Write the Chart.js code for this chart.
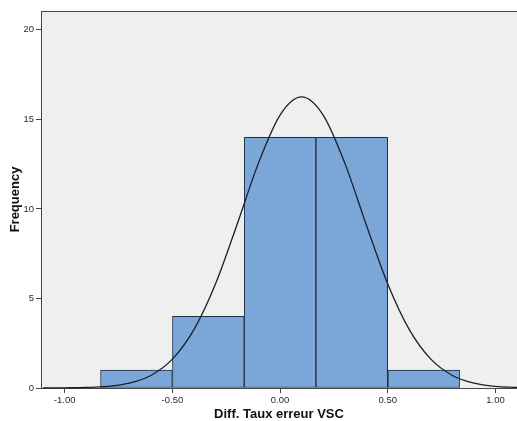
<!DOCTYPE html>
<html>
<head>
<meta charset="utf-8">
<script src="https://cdn.jsdelivr.net/npm/chart.js@4.4.1/dist/chart.umd.min.js"></script>
<style>
html,body{margin:0;padding:0;background:#fff}
canvas{display:block}
</style>
</head>
<body>
<canvas id="chart" width="517" height="421"></canvas>
<script>
// histogram bins (centres) and counts
const binCenters = [-0.667, -0.333, 0, 0.333, 0.667]
const counts = [1, 4, 14, 14, 1]

// normal curve
const curveX = [-1.1,-1.0,-0.9,-0.8,-0.7,-0.6,-0.5,-0.4,-0.3,-0.2,-0.1,0.0,0.1,0.2,0.3,0.4,0.5,0.6,0.7,0.8,0.9,1.0,1.1]
const curveY = [0.00,0.01,0.03,0.09,0.27,0.70,1.61,3.26,5.81,9.12,12.57,15.24,16.25,15.24,12.57,9.12,5.81,3.26,1.61,0.70,0.27,0.09,0.03]

const xTicks = [-1, -0.5, 0, 0.5, 1]
const yTicks = [0, 5, 10, 15, 20]

const FONT = "'Liberation Sans', Arial, sans-serif"

// grey plot background + frame
const plotBg = {
id:"plotBg",
beforeDraw(c){
const a = c.chartArea, ctx = c.ctx
ctx.save()
ctx.fillStyle = "#efefef"
ctx.fillRect(a.left, a.top, a.right - a.left, a.bottom - a.top)
ctx.strokeStyle = "#444"
ctx.lineWidth = 1
ctx.beginPath()
ctx.moveTo(a.left + 0.5, a.bottom)
ctx.lineTo(a.left + 0.5, a.top + 0.5)
ctx.lineTo(a.right, a.top + 0.5)
ctx.stroke()
ctx.restore()
}
}

new Chart(document.getElementById("chart"),{
type:"bar",
data:{
datasets:[
{
type:"line",
data:curveX.map((x,i)=>({x:x, y:curveY[i]})),
borderColor:"#18202e",
borderWidth:1.3,
pointRadius:0,
cubicInterpolationMode:"monotone",
fill:false,
clip:false,
order:0
},
{
type:"bar",
data:binCenters.map((x,i)=>({x:x, y:counts[i]})),
backgroundColor:"#7ba7d8",
borderColor:"#1e2d40",
borderWidth:1,
borderSkipped:false,
barPercentage:1,
categoryPercentage:1,
order:1
}
]
},
options:{
responsive:false,
animation:false,
devicePixelRatio:1,
layout:{padding:{top:11, right:0, left:8, bottom:0}},
plugins:{legend:{display:false}, tooltip:{enabled:false}},
scales:{
x:{
type:"linear",
offset:false,
min:-1.11,
max:1.10,
afterBuildTicks(s){ s.ticks = xTicks.map(v=>({value:v})) },
afterFit(s){ s.height = 33 },
grid:{display:true, offset:false, drawOnChartArea:false, drawTicks:true, tickLength:5, color:"#444"},
border:{display:true, color:"#444"},
ticks:{color:"#2a2a2a", font:{family:FONT, size:9.5}, padding:2, maxRotation:0,
callback:v=>v.toFixed(2)},
title:{display:true, text:"Diff. Taux erreur VSC", color:"#111",
font:{family:FONT, size:13, weight:"bold"}, padding:{top:1, bottom:-1}}
},
y:{
min:0,
max:21.05,
afterBuildTicks(s){ s.ticks = yTicks.map(v=>({value:v})) },
afterFit(s){ s.width = 33 },
grid:{display:true, drawOnChartArea:false, drawTicks:true, tickLength:5, color:"#444"},
border:{display:true, color:"#444"},
ticks:{color:"#2a2a2a", font:{family:FONT, size:9.5}, padding:2},
title:{display:true, text:"Frequency", color:"#111",
font:{family:FONT, size:13, weight:"bold"}, padding:{top:0, bottom:0}}
}
}
},
plugins:[plotBg]
})
</script>
</body>
</html>
